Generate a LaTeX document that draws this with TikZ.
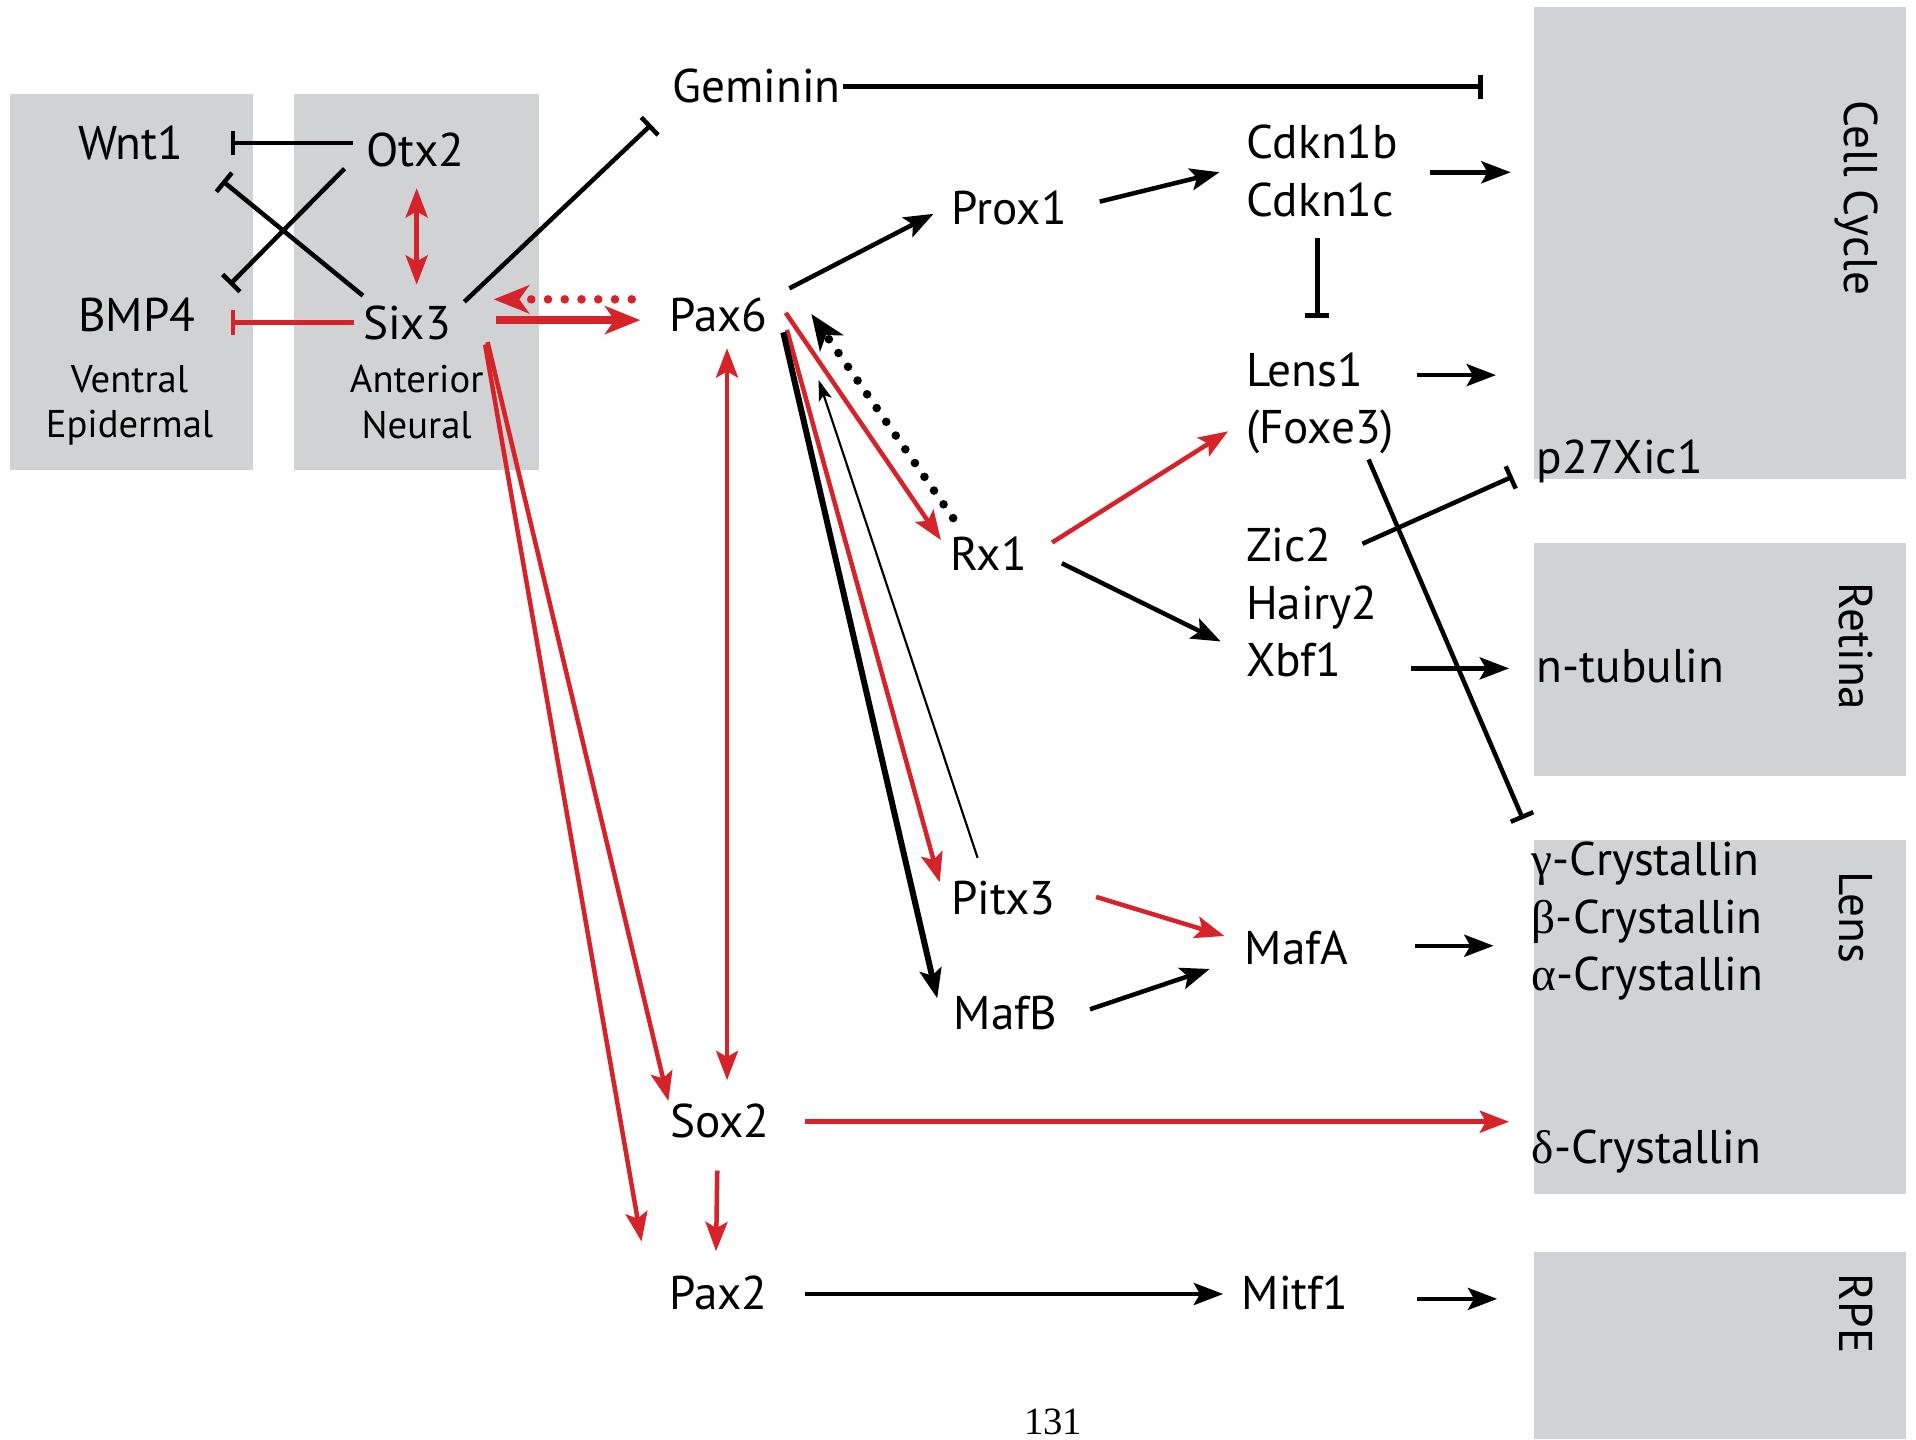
\documentclass[tikz,border=0pt]{standalone}
\usepackage{fontspec}
\setmainfont{PT Sans}
\newfontfamily\grk{Liberation Serif}
\newfontfamily\folio{Liberation Serif}
\usetikzlibrary{arrows.meta}
\usepackage{xcolor}
\definecolor{boxgray}{RGB}{209,210,212}
\definecolor{sigred}{RGB}{214,35,42}
\tikzset{
    gene/.style={
        inner sep=0pt,align=left,font=\fontsize{11}{13.4}\selectfont
    },
    tissue/.style={
        inner sep=0pt,align=center,font=\fontsize{9}{10.5}\selectfont
    },
    panel/.style={
        fill=boxgray,draw=none,inner sep=0pt
    },
    sidelabel/.style={
        inner sep=0pt,rotate=-90,font=\fontsize{11}{13}\selectfont
    },
    act/.style={
        -{Stealth[length=2.4mm,width=1.8mm,inset=0.5mm]},line width=1.05pt
    },
    bigact/.style={
        -{Stealth[length=2.9mm,width=2.3mm,inset=0.8mm]}
    },
    mutual/.style={
        {Stealth[length=2.4mm,width=1.8mm,inset=0.5mm]}-{Stealth[length=2.4mm,width=1.8mm,inset=0.5mm]},
        line width=1.05pt
    },
    inh/.style={
        -{Bar[width=2mm]},line width=1.05pt
    },
    dotpath/.style={
        line width=2pt,line cap=round,dash pattern=on 0pt off 3.9pt
    }
}

\begin{document}
\begin{tikzpicture}[x=0.1mm,y=-0.1mm]
\useasboundingbox (0,0) rectangle (1568,1178);

% grey panels
\node[panel,minimum width=19.9mm,minimum height=30.8mm] (epi) at (107.5,231) {};
\node[panel,minimum width=20mm,minimum height=30.8mm] (neu) at (341,231) {};
\node[panel,minimum width=30.5mm,minimum height=38.6mm] (cc) at (1407.5,199) {};
\node[panel,minimum width=30.5mm,minimum height=19.1mm] (ret) at (1407.5,539.5) {};
\node[panel,minimum width=30.5mm,minimum height=29mm] (lens) at (1407.5,832.5) {};
\node[panel,minimum width=30.5mm,minimum height=15.3mm] (rpe) at (1407.5,1101.5) {};

\node[sidelabel] (cclab) at (1519,162) {Cell Cycle};
\node[sidelabel] (retlab) at (1519,529) {Retina};
\node[sidelabel] (lenslab) at (1519,751) {Lens};
\node[sidelabel] (rpelab) at (1519,1075) {RPE};

\node[gene] (wnt) at (107,117) {Wnt1};
\node[gene] (otx) at (340,123) {Otx2};
\node[gene] (bmp) at (112,258) {BMP4};
\node[gene] (six) at (333,264) {Six3};
\node[tissue] (ventral) at (106,332) {Ventral\\Epidermal};
\node[tissue] (anterior) at (341,329) {Anterior\\Neural};

\node[gene] (gem) at (619,70) {Geminin};
\node[gene] (pax6) at (588,258) {Pax6};
\node[gene] (prox) at (826,170) {Prox1};
\node[gene] (rx) at (809,453) {Rx1};
\node[gene] (pitx) at (821,735) {Pitx3};
\node[gene] (mafb) at (823,829) {MafB};
\node[gene] (sox) at (589,917) {Sox2};
\node[gene] (pax2) at (588,1058) {Pax2};

\node[gene,anchor=west] (cdkn) at (1019,140) {Cdkn1b\\Cdkn1c};
\node[gene,anchor=west] (lens1) at (1019,330) {Lens1\\(Foxe3)};
\node[gene,anchor=west] (zic) at (1019,493) {Zic2\\Hairy2\\Xbf1};
\node[gene] (mafa) at (1061,776) {MafA};
\node[gene] (mitf) at (1060,1058) {Mitf1};

\node[gene,anchor=west] (p27) at (1257,378) {p27Xic1};
\node[gene,anchor=west] (ntub) at (1257,545) {n-tubulin};
\node[gene,anchor=west] (cryst) at (1253,754)
{{\grk γ}-Crystallin\\{\grk β}-Crystallin\\{\grk α}-Crystallin};
\node[gene,anchor=west] (delta) at (1253,942) {{\grk δ}-Crystallin};

\node[inner sep=0pt,font=\folio\fontsize{9}{9}\selectfont] (folio) at (862,1164) {131};

% ventral / anterior crosstalk
\draw[inh] ([shift={(-51,-6)}]otx.center) -- ([shift={(82,0)}]wnt.center);
\draw[inh] ([shift={(-58,15)}]otx.center) -- ([shift={(76,-25)}]bmp.center);
\draw[inh] ([shift={(-36,-22)}]six.center) -- ([shift={(75,31)}]wnt.center);
\draw[inh,sigred] ([shift={(-43,0)}]six.center) -- ([shift={(77,6)}]bmp.center);
\draw[mutual,sigred] ([shift={(1,31)}]otx.center) -- ([shift={(8,-31)}]six.center);

\draw[inh] ([shift={(47,-17)}]six.center) -- ([shift={(-86,32)}]gem.center);
\draw[inh] ([shift={(71,1)}]gem.center) -- ([shift={(-41,-128)}]cc.west);

\draw[act,bigact,sigred,line width=1.7pt] ([shift={(73,-2)}]six.center) -- ([shift={(-64,4)}]pax6.center);
\draw[dotpath,bigact,sigred] ([shift={(-71,-13)}]pax6.center) -- ([shift={(71,-19)}]six.center);
\draw[act,sigred] ([shift={(66,16)}]six.center) -- ([shift={(-42,-16)}]sox.center);
\draw[act,sigred] ([shift={(64,18)}]six.center) -- ([shift={(-63,-42)}]pax2.center);

% Pax6 targets
\draw[act] ([shift={(58,-22)}]pax6.center) -- ([shift={(-62,5)}]prox.center);
\draw[act] ([shift={(74,-5)}]prox.center) -- ([shift={(-21,1)}]cdkn.west);
\draw[act] ([shift={(151,1)}]cdkn.west) -- ([shift={(-18,-58)}]cc.west);
\draw[inh] ([shift={(59,55)}]cdkn.west) -- ([shift={(59,-70)}]lens1.west);
\draw[act] ([shift={(141,-23)}]lens1.west) -- ([shift={(-30,108)}]cc.west);

\draw[act,sigred] ([shift={(55,-2)}]pax6.center) -- ([shift={(-39,-11)}]rx.center);
\draw[dotpath,bigact] ([shift={(-29,-29)}]rx.center) -- ([shift={(76,-1)}]pax6.center);
\draw[mutual,sigred] ([shift={(7,27)}]pax6.center) -- ([shift={(6,-33)}]sox.center);
\draw[act,sigred] ([shift={(56,12)}]pax6.center) -- ([shift={(-52,-13)}]pitx.center);
\draw[act,line width=1.4pt] ([shift={(53,14)}]pax6.center) -- ([shift={(-56,-12)}]mafb.center);
\draw[-{Stealth[length=1.7mm,width=1.1mm,inset=0.4mm]},line width=0.5pt]
([shift={(-21,-33)}]pitx.center) -- ([shift={(82,53)}]pax6.center);

\draw[act,sigred] ([shift={(52,-9)}]rx.center) -- ([shift={(-14,23)}]lens1.west);
\draw[act] ([shift={(60,8)}]rx.center) -- ([shift={(-20,32)}]zic.west);
\draw[inh] ([shift={(96,-48)}]zic.west) -- ([shift={(-19,12)}]p27.west);
\draw[inh] ([shift={(101,46)}]lens1.west) -- ([shift={(-8,-16.5)}]lens.north west);
\draw[act] ([shift={(136,54)}]zic.west) -- ([shift={(-22,2)}]ntub.west);

\draw[act,sigred] ([shift={(76,-1)}]pitx.center) -- ([shift={(-59,-10)}]mafa.center);
\draw[act] ([shift={(69,-3)}]mafb.center) -- ([shift={(-71,17)}]mafa.center);
\draw[act] ([shift={(97,-2)}]mafa.center) -- ([shift={(-32,-58.5)}]lens.west);

% Sox2 / Pax2
\draw[act,sigred] ([shift={(70,1)}]sox.center) -- ([shift={(-18,-24)}]delta.west);
\draw[act,sigred] ([shift={(-2,41)}]sox.center) -- ([shift={(-2,-34)}]pax2.center);
\draw[act] ([shift={(71,1)}]pax2.center) -- ([shift={(-59,1)}]mitf.center);
\draw[act] ([shift={(100,5)}]mitf.center) -- ([shift={(-29,-38.5)}]rpe.west);

\end{tikzpicture}
\end{document}
